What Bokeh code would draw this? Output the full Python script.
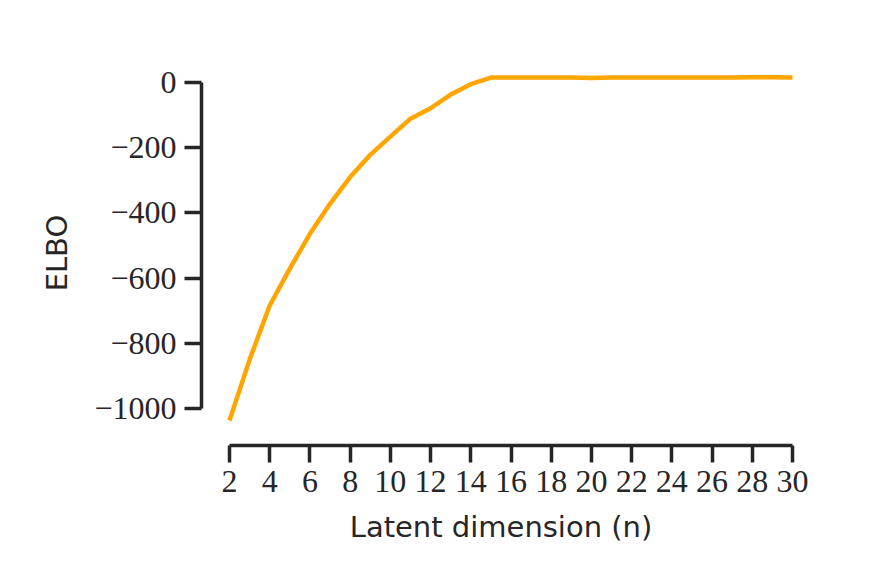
from bokeh.plotting import figure
from bokeh.models import FixedTicker, CustomJSTickFormatter, Range1d
from bokeh.embed import file_html
from bokeh.resources import INLINE

# ---- data ----
latent_dim = [2, 3, 4, 5, 6, 7, 8, 9, 10, 11, 12, 13, 14, 15, 16,
              17, 18, 19, 20, 21, 22, 23, 24, 25, 26, 27, 28, 29, 30]
elbo_mean = [-1037, -850, -684, -571, -464, -372, -290, -222, -166, -111, -79, -37, -5, 15, 15,
             15, 15, 15, 14, 15, 15, 15, 15, 15, 15, 15, 16, 16, 15]
elbo_sd = [14, 11, 9, 8, 7, 6, 5, 4, 4, 3, 3, 3, 3, 2, 2,
           2, 2, 2, 2, 2, 2, 2, 2, 2, 2, 2, 2, 2, 2]
x_ticks = [2, 4, 6, 8, 10, 12, 14, 16, 18, 20, 22, 24, 26, 28, 30]
y_ticks = [-1000, -800, -600, -400, -200, 0]

lower = [m - s for m, s in zip(elbo_mean, elbo_sd)]
upper = [m + s for m, s in zip(elbo_mean, elbo_sd)]

AX = "#262626"
ORANGE = "#FFA500"

p = figure(width=870, height=578, output_backend="svg", toolbar_location=None,
           min_border_left=201, min_border_right=70, min_border_top=60, min_border_bottom=133,
           x_range=Range1d(0.607, 30.398), y_range=Range1d(-1113.5, 67.5))
p.outline_line_color = None
p.grid.visible = False
p.background_fill_color = "white"
p.border_fill_color = "white"

p.varea(x=latent_dim, y1=lower, y2=upper, fill_color=ORANGE, fill_alpha=0.25)
p.line(latent_dim, elbo_mean, line_color=ORANGE, line_width=4.5)

fmt = CustomJSTickFormatter(code="return tick < 0 ? '\u2212' + Math.abs(tick) : String(tick);")

for ax in (p.xaxis[0], p.yaxis[0]):
    ax.axis_line_color = AX
    ax.axis_line_width = 3.5
    ax.major_tick_line_color = AX
    ax.major_tick_line_width = 3.5
    ax.major_tick_out = 17
    ax.major_tick_in = 0
    ax.minor_tick_line_color = None
    ax.major_label_text_font = "Liberation Serif"
    ax.major_label_text_font_size = "32px"
    ax.major_label_text_color = AX
    ax.axis_label_text_font = "DejaVu Sans"
    ax.axis_label_text_font_size = "29px"
    ax.axis_label_text_font_style = "normal"
    ax.axis_label_text_color = AX
    ax.formatter = fmt

p.xaxis[0].ticker = FixedTicker(ticks=x_ticks)
p.yaxis[0].ticker = FixedTicker(ticks=y_ticks)
p.xaxis[0].bounds = (x_ticks[0], x_ticks[-1])
p.yaxis[0].bounds = (y_ticks[0], y_ticks[-1])
p.xaxis[0].axis_label = "Latent dimension (n)"
p.yaxis[0].axis_label = "ELBO"
p.xaxis[0].major_label_standoff = 8
p.yaxis[0].major_label_standoff = 8
p.xaxis[0].axis_label_standoff = 15
p.yaxis[0].axis_label_standoff = 17

open("out.html", "w").write(file_html(p, INLINE))
